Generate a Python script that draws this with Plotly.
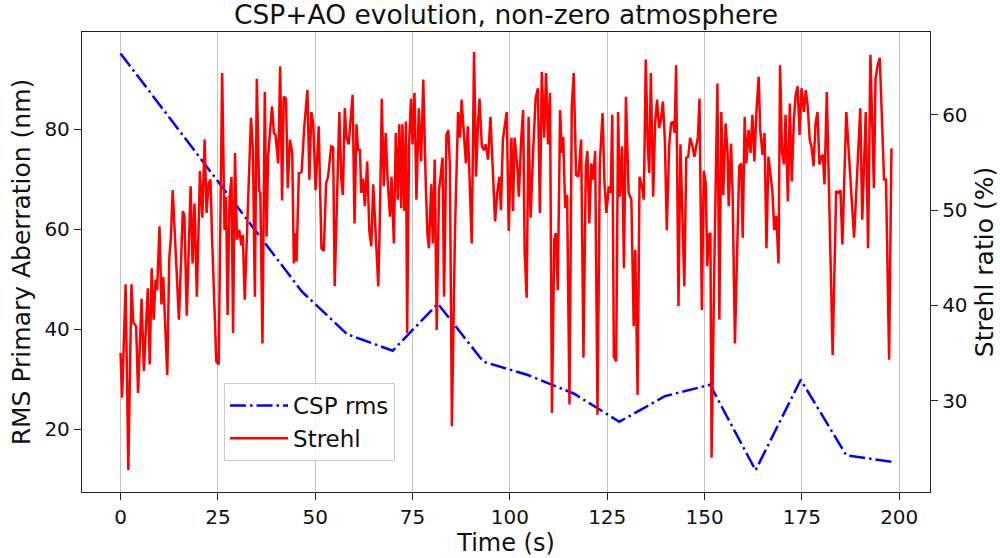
import plotly.graph_objects as go

# CSP rms (nm) on left axis
csp_time = [0.0, 11.6, 23.3, 34.9, 46.6, 58.2, 69.9, 81.5, 93.2, 104.8, 116.5,
            128.1, 139.8, 151.4, 163.1, 174.7, 186.4, 198.0]
csp_rms = [95.1, 83.2, 71.3, 59.4, 47.5, 39.0, 35.7, 45.1, 33.5, 30.8, 27.1,
           21.5, 26.6, 28.9, 11.8, 29.9, 14.8, 13.5]

# Strehl ratio (%) on right axis
strehl_time = [
    0.0, 0.4, 1.3, 2.0, 2.8, 3.25, 4.0, 4.5, 5.4, 6.0, 7.0, 7.5, 8.0, 8.5, 9.0, 9.4, 10.0, 10.5, 10.95, 12.0,
    12.5, 12.9, 13.4, 15.0, 16.0, 16.4, 17.0, 18.0, 18.5, 19.0, 19.6, 20.4, 21.0, 21.6, 22.1, 22.6, 23.1, 23.5, 24.6, 25.2,
    26.1, 26.7, 27.1, 27.5, 28.0, 28.5, 28.9, 29.4, 29.9, 30.5, 31.0, 31.4, 31.9, 32.5, 33.5, 34.0, 34.5, 35.0, 35.6, 35.9,
    36.45, 37.05, 37.5, 37.9, 38.3, 38.9, 39.4, 39.8, 40.5, 41.0, 41.5, 41.9, 42.5, 42.95, 43.5, 44.1, 44.5, 44.9, 45.2, 45.8,
    46.5, 47.2, 48.0, 48.5, 49.0, 49.5, 50.1, 50.9,
    51.6, 52.2, 52.8, 53.3, 54.1, 54.6, 55.0, 55.6, 56.2, 56.7, 57.1, 57.6, 58.0, 58.6, 59.2, 59.6, 60.1, 60.6, 61.0, 61.5,
    61.8, 62.3, 62.75, 63.35, 63.9, 64.4, 64.9, 65.3, 65.7, 66.2, 66.6, 67.1, 67.6, 68.1, 68.6, 69.2, 69.6, 70.2, 70.7, 71.2,
    71.6, 72.1, 72.4, 72.9, 73.3, 73.6, 74.1, 74.6, 75.0, 75.5,
    76.0, 76.6, 77.2, 77.75, 78.35, 78.8, 79.2, 79.8, 80.2, 80.7, 81.2, 81.8, 82.2, 82.7, 83.1, 83.7, 84.2, 84.6, 85.1, 85.9,
    86.7, 87.2, 87.6, 88.2, 88.7, 89.2, 89.65, 90.2, 90.8, 91.3, 91.8, 92.2, 92.8, 93.3, 93.75, 94.4, 95.0, 95.6, 96.2, 96.75,
    97.3, 97.7, 98.2, 98.7, 99.2, 99.7,
    100.4, 100.8, 101.2, 101.9, 102.3, 102.9, 103.4, 103.8, 104.3, 104.8, 105.3, 106.0, 106.6, 107.2, 107.7, 108.2, 108.8, 109.3, 109.8, 110.3,
    110.8, 111.4, 111.8, 112.3, 112.9, 113.3, 113.7, 114.2, 114.7, 115.3, 115.9, 116.4, 117.0, 117.6, 118.3, 118.9, 119.5, 119.9, 120.4, 120.9,
    121.4, 121.9, 122.5, 123.1, 123.8, 124.3, 124.8, 125.4, 125.9, 126.3, 126.7, 127.3, 127.8,
    128.2, 128.8, 129.3, 129.8, 130.5, 131.2, 131.8, 132.2, 132.8, 133.3, 133.9, 134.4, 134.9, 135.4, 135.8, 136.2, 136.8, 137.3, 137.8, 138.3,
    138.8, 139.3, 139.8, 140.3, 140.9, 141.4, 141.9, 142.3, 142.7, 143.3, 143.8, 144.3, 144.8, 145.3, 145.8, 146.3, 146.9, 147.4, 147.9, 148.3,
    148.7, 149.3, 149.8, 150.3, 150.7, 151.1, 151.5, 151.8, 152.6,
    153.3, 153.8, 154.3, 154.8, 155.4, 155.9, 156.2, 156.8, 157.2, 157.8, 158.35, 158.9, 159.4, 159.8, 160.3, 160.7, 161.3, 161.8, 162.3, 162.8,
    163.3, 163.9, 164.3, 164.9, 165.4, 165.9, 166.4, 166.9, 167.4, 167.9, 168.4, 168.6, 169.0, 169.4, 169.9, 170.4, 170.8, 171.4, 171.9, 172.4,
    172.9, 173.4, 173.9, 174.4, 174.9, 175.5, 176.0, 176.5, 177.0, 177.5, 178.0, 178.5, 179.0,
    179.5, 180.0, 180.4, 180.8, 181.4, 182.9, 183.8, 184.4, 184.9, 185.4, 186.4, 188.4, 190.0, 190.5, 191.4, 192.0, 192.6, 193.5, 193.9, 194.4,
    195.0, 196.1, 196.6, 197.4, 198.0,
]
strehl_pct = [
    35.0, 30.3, 42.2, 22.7, 42.2, 38.2, 37.8, 30.8, 40.7, 33.1, 41.8, 33.8, 43.9, 38.5, 42.7, 41.6, 48.3, 40.1, 43.0, 32.7,
    44.8, 46.9, 52.1, 38.5, 49.9, 49.4, 38.9, 52.5, 44.4, 50.7, 40.9, 54.1, 49.2, 57.4, 49.7, 52.8, 53.2, 47.2, 34.1, 33.8,
    64.4, 47.9, 51.4, 39.0, 51.2, 53.5, 37.1, 56.0, 46.9, 47.9, 46.3, 47.4, 40.6, 48.3, 59.7, 56.3, 40.9, 63.8, 52.0, 51.8,
    36.0, 62.4, 47.2, 55.6, 57.4, 60.9, 58.1, 57.9, 54.9, 65.1, 51.0, 61.9, 61.7, 52.3, 57.4, 56.0, 44.4, 47.6, 44.6, 53.9,
    54.0, 58.8, 62.6, 53.2, 60.3, 59.1, 52.1, 58.8,
    46.0, 45.7, 52.8, 53.5, 56.7, 56.6, 42.0, 52.8, 60.3, 53.2, 51.6, 60.7, 57.7, 56.9, 60.2, 62.1, 48.6, 59.0, 56.3, 56.3,
    51.8, 53.3, 50.4, 55.1, 47.8, 46.2, 52.7, 49.7, 45.8, 42.0, 49.0, 61.7, 52.5, 58.1, 53.2, 49.3, 53.5, 46.5, 58.1, 51.1,
    59.0, 50.2, 59.0, 49.9, 59.3, 37.1, 56.9, 61.7, 56.9, 62.3,
    51.1, 60.7, 55.1, 63.7, 53.5, 47.6, 46.0, 52.7, 46.5, 55.3, 37.4, 52.1, 53.5, 55.5, 40.9, 57.9, 58.4, 54.5, 27.3, 47.9,
    60.3, 57.6, 61.6, 57.4, 54.9, 58.8, 52.5, 46.5, 66.6, 53.5, 59.1, 61.7, 56.7, 56.3, 56.9, 55.3, 59.8, 53.9, 48.8, 51.8,
    53.5, 50.0, 57.4, 58.9, 60.3, 47.8,
    57.6, 49.9, 57.6, 54.6, 51.4, 57.4, 60.5, 45.5, 40.8, 59.8, 49.2, 56.3, 61.7, 62.8, 49.7, 64.5, 57.6, 64.4, 56.9, 62.3,
    28.7, 46.9, 47.6, 41.6, 60.5, 56.0, 57.7, 50.2, 51.6, 29.6, 60.9, 64.4, 53.7, 53.5, 57.4, 34.5, 54.6, 56.2, 48.6, 54.9,
    53.2, 56.2, 28.5, 54.9, 60.2, 52.8, 49.7, 52.5, 51.8, 60.0, 34.6, 34.1, 60.3,
    51.4, 56.7, 43.9, 61.9, 51.8, 51.1, 37.8, 45.8, 30.6, 53.5, 52.5, 51.1, 65.8, 56.7, 53.9, 64.4, 51.4, 59.1, 61.6, 58.6,
    59.5, 61.4, 57.4, 47.9, 56.7, 59.1, 59.3, 58.1, 65.2, 39.9, 56.9, 49.0, 42.0, 55.5, 55.6, 57.6, 56.7, 55.6, 56.7, 57.7,
    61.7, 39.5, 54.1, 52.8, 44.1, 47.4, 47.6, 24.0, 46.5,
    63.3, 38.5, 60.3, 51.6, 59.1, 56.0, 50.4, 57.0, 51.8, 36.0, 46.9, 54.6, 54.9, 47.1, 59.8, 54.9, 58.4, 56.0, 60.0, 55.1,
    60.2, 64.0, 58.4, 55.8, 58.1, 46.0, 55.6, 53.9, 52.1, 47.9, 49.4, 47.9, 44.4, 65.2, 56.0, 54.8, 60.0, 50.9, 61.2, 53.0,
    59.1, 62.1, 63.0, 57.9, 62.8, 60.3, 62.6, 60.9, 57.4, 56.6, 54.6, 59.1, 60.3,
    54.8, 55.6, 55.8, 52.7, 62.4, 34.8, 52.0, 51.8, 52.1, 46.4, 60.3, 47.1, 60.7, 49.0, 60.3, 46.0, 66.3, 52.3, 63.7, 65.1,
    66.0, 53.2, 53.2, 34.3, 56.5,
]

x_ticks = [0, 25, 50, 75, 100, 125, 150, 175, 200]
left_ticks = [20, 40, 60, 80]
right_ticks = [30, 40, 50, 60]

FONT = "DejaVu Sans"

fig = go.Figure()
fig.add_trace(go.Scatter(
    x=csp_time, y=csp_rms, mode="lines", name="CSP rms",
    line=dict(color="#0000ff", width=2.5, dash="16px,4px,2.5px,4px"), yaxis="y"))
fig.add_trace(go.Scatter(
    x=strehl_time, y=strehl_pct, mode="lines", name="Strehl",
    line=dict(color="#ff0000", width=2.5), yaxis="y2"))

axis_common = dict(
    showline=True, linecolor="#222222", linewidth=1.3,
    ticks="outside", ticklen=7, tickwidth=1.3, tickcolor="#222222",
    tickfont=dict(family=FONT, size=20, color="#111111"),
    zeroline=False, automargin=False,
)

fig.update_layout(
    width=1000, height=558,
    margin=dict(l=82, r=70, t=32, b=66),
    paper_bgcolor="white", plot_bgcolor="white",
    font=dict(family=FONT, color="#111111"),
    title=dict(text="CSP+AO evolution, non-zero atmosphere",
               x=0.506, xanchor="center", y=0.973, yanchor="middle",
               font=dict(family=FONT, size=26.5, color="#111111")),
    xaxis=dict(**axis_common, range=[-9.9, 207.9], tickvals=x_ticks,
               mirror=True, showgrid=True, gridcolor="#c4c4c4", gridwidth=1.2,
               title=dict(text="Time (s)", standoff=4,
                          font=dict(family=FONT, size=24, color="#111111"))),
    yaxis=dict(**axis_common, range=[7.46, 99.4], tickvals=left_ticks,
               showgrid=False,
               title=dict(text="RMS Primary Aberration (nm)", standoff=6,
                          font=dict(family=FONT, size=25, color="#111111"))),
    yaxis2=dict(**axis_common, range=[20.4, 68.7], tickvals=right_ticks,
                overlaying="y", side="right", showgrid=False,
                title=dict(text="Strehl ratio (%)", standoff=8,
                           font=dict(family=FONT, size=25, color="#111111"))),
    legend=dict(x=0.1675, y=0.237, xanchor="left", yanchor="top",
                bgcolor="rgba(255,255,255,0.85)", bordercolor="#cccccc",
                borderwidth=1, itemwidth=58,
                font=dict(family=FONT, size=23, color="#111111")),
)

fig.write_html("out.html",
               config={"displayModeBar": False},
               post_script="document.body.style.margin='0';")
